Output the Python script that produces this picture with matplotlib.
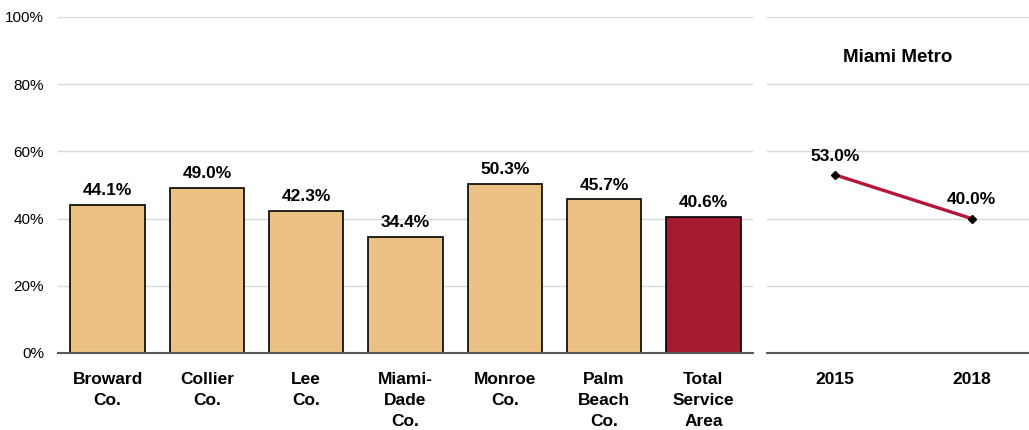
import matplotlib
matplotlib.use("Agg")
import matplotlib.pyplot as plt
from matplotlib.ticker import FuncFormatter

plt.rcParams['font.family'] = ['Liberation Sans', 'DejaVu Sans']

# County shares
counties = ["Broward\nCo.", "Collier\nCo.", "Lee\nCo.", "Miami-\nDade\nCo.",
            "Monroe\nCo.", "Palm\nBeach\nCo.", "Total\nService\nArea"]
county_values = [44.1, 49.0, 42.3, 34.4, 50.3, 45.7, 40.6]

# Metro trend
years = ["2015", "2018"]
metro_values = [53.0, 40.0]
metro_title = "Miami Metro"

y_ticks = [0, 20, 40, 60, 80, 100]

bar_color = "#EBC283"
total_color = "#A51C30"
line_color = "#B5163A"
grid_color = "#D9D9D9"
axis_color = "#595959"

fig = plt.figure(figsize=(10.29, 4.30), dpi=100)
ax = fig.add_axes([58 / 1029, 1 - 353 / 430, (753 - 58) / 1029, (353 - 17) / 430])
ax2 = fig.add_axes([767 / 1029, 1 - 353 / 430, (1029 - 767) / 1029, (353 - 17) / 430])

# Bar panel
xs = list(range(len(counties)))
colors = [bar_color] * (len(counties) - 1) + [total_color]
ax.bar(xs, county_values, width=0.75, color=colors, edgecolor="black",
       linewidth=1.2, zorder=3)
for x, v in zip(xs, county_values):
    ax.annotate(f"{v:.1f}%", (x, v), xytext=(0, 5), textcoords="offset points",
                ha="center", va="bottom", fontsize=12.5, fontweight="bold")

ax.set_xlim(-0.5, 6.5)
ax.set_ylim(0, 100)
ax.set_yticks(y_ticks)
ax.yaxis.set_major_formatter(FuncFormatter(lambda v, p: f"{v:.0f}%"))
ax.set_xticks(xs)
ax.set_xticklabels(counties, fontsize=12.5, fontweight="bold", linespacing=1.5)
ax.tick_params(axis="both", length=0)
ax.tick_params(axis="y", labelsize=11, pad=10)
ax.tick_params(axis="x", pad=14)
ax.grid(axis="y", color=grid_color, linewidth=1, zorder=0)
for s in ["top", "right", "left"]:
    ax.spines[s].set_visible(False)
ax.spines["bottom"].set_color(axis_color)
ax.spines["bottom"].set_linewidth(1.5)
ax.spines["bottom"].set_zorder(4)

# Trend panel
xl = list(range(len(years)))
ax2.plot(xl, metro_values, color=line_color, linewidth=2.4, marker="D",
         markersize=4.5, markerfacecolor="black", markeredgecolor="black", zorder=3)
for x, v in zip(xl, metro_values):
    ax2.annotate(f"{v:.1f}%", (x, v), xytext=(0, 8), textcoords="offset points",
                 ha="center", va="bottom", fontsize=12.5, fontweight="bold")
ax2.set_xlim(-0.5, 1.42)
ax2.set_ylim(0, 100)
ax2.set_yticks(y_ticks)
ax2.set_yticklabels([])
ax2.set_xticks(xl)
ax2.set_xticklabels(years, fontsize=12.5, fontweight="bold")
ax2.tick_params(axis="both", length=0)
ax2.tick_params(axis="x", pad=14)
ax2.grid(axis="y", color=grid_color, linewidth=1, zorder=0)
for s in ["top", "right", "left"]:
    ax2.spines[s].set_visible(False)
ax2.spines["bottom"].set_color(axis_color)
ax2.spines["bottom"].set_linewidth(1.5)
ax2.text(0.5, 0.88, metro_title, transform=ax2.transAxes, ha="center",
         va="center", fontsize=13.5, fontweight="bold")

fig.savefig("out.png", dpi=100)
